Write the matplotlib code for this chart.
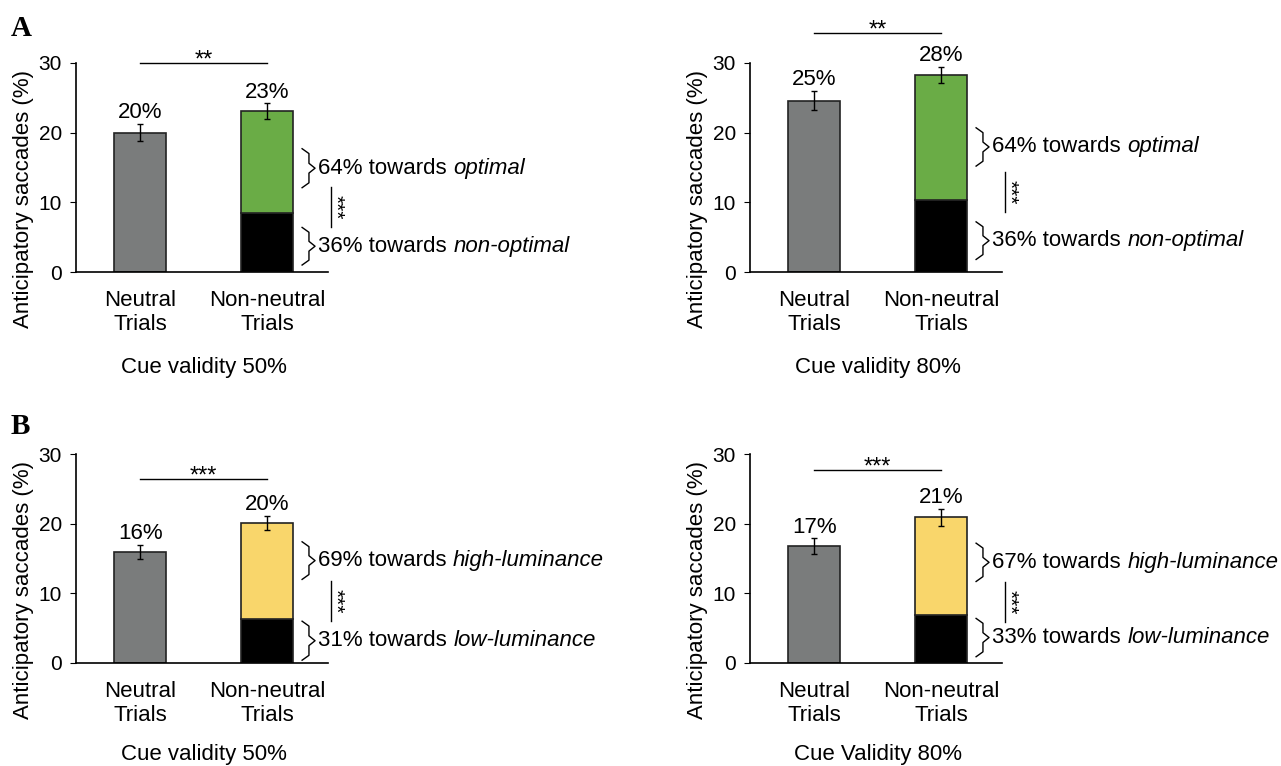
import numpy as np
import matplotlib
matplotlib.use("Agg")
import matplotlib.pyplot as plt

plt.rcParams['font.family'] = ['Liberation Sans', 'DejaVu Sans']

# data per panel: A-50%, A-80%, B-50%, B-80%
neutral = [20.0, 24.6, 16.0, 16.8]
neutral_err = [1.25, 1.4, 1.0, 1.1]
nonneutral = [23.1, 28.3, 20.1, 20.9]
nonneutral_err = [1.1, 1.15, 1.0, 1.2]
towards_low = [8.4, 10.3, 6.3, 6.9]          # black part of the stacked bar
neutral_lbl = ["20%", "25%", "16%", "17%"]
nonneutral_lbl = ["23%", "28%", "20%", "21%"]
high_pct = ["64%", "64%", "69%", "67%"]
low_pct = ["36%", "36%", "31%", "33%"]
high_word = ["optimal", "optimal", "high-luminance", "high-luminance"]
low_word = ["non-optimal", "non-optimal", "low-luminance", "low-luminance"]
top_colors = ["#6aac46", "#6aac46", "#f9d66b", "#f9d66b"]
top_stars = ["**", "**", "***", "***"]
cue_titles = ["Cue validity 50%", "Cue validity 80%", "Cue validity 50%", "Cue Validity 80%"]
categories = ["Neutral\nTrials", "Non-neutral\nTrials"]

# annotation geometry (data units)
sig_top_y = [30.0, 34.3, 26.4, 27.7]
brace_hi = [(17.7, 12.1), (20.7, 15.2), (17.4, 12.0), (17.2, 11.7)]
brace_lo = [(6.4, 1.0), (7.2, 1.8), (6.0, 0.4), (6.4, 0.9)]
sig_side = [(12.2, 6.4), (14.3, 8.6), (11.7, 6.1), (11.6, 5.9)]

W, H = 1281, 766
fig = plt.figure(figsize=(W / 100, H / 100), dpi=100)

ax_rects = [(76, 63), (750, 63), (76, 454), (750, 454)]
title_off = [-69, -69, -66, -66]
aw, ah = 252, 209


def brace(ax, ytop, ybot, x0=1.276, x1=1.33, xtip=1.378):
    ym = (ytop + ybot) / 2
    d = 0.7
    xs = [x0, x1, x1, xtip, x1, x1, x0]
    ys = [ytop, ytop - d, ym + d, ym, ym - d, ybot + d, ybot]
    ax.plot(xs, ys, color="black", lw=1.0, clip_on=False)
    return ym


def two_part(ax, x, y, plain, ital):
    t = ax.text(x, y, plain + " towards ", fontsize=16, va="center", ha="left",
                clip_on=False)
    ax.annotate(ital, xy=(1, 0.5), xycoords=t, va="center", ha="left",
                fontsize=16, style="italic", annotation_clip=False)


for i in range(4):
    px, py = ax_rects[i]
    ax = fig.add_axes([px / W, 1 - (py + ah) / H, aw / W, ah / H])
    x = np.array([0, 1])
    ax.bar(0, neutral[i], width=0.41, color="#7a7c7c", edgecolor="#222222", lw=1.2)
    ax.bar(1, towards_low[i], width=0.41, color="black", edgecolor="#222222", lw=1.2)
    ax.bar(1, nonneutral[i] - towards_low[i], bottom=towards_low[i], width=0.41,
           color=top_colors[i], edgecolor="#222222", lw=1.2)
    ax.errorbar(x, [neutral[i], nonneutral[i]], yerr=[neutral_err[i], nonneutral_err[i]],
                fmt="none", ecolor="black", elinewidth=1, capsize=2.5, capthick=1)
    for xi, v, e, lbl in zip(x, [neutral[i], nonneutral[i]],
                             [neutral_err[i], nonneutral_err[i]],
                             [neutral_lbl[i], nonneutral_lbl[i]]):
        ax.annotate(lbl, xy=(xi, v + e), xytext=(0, 4), textcoords="offset points",
                    ha="center", va="baseline", fontsize=16)

    ax.set_xlim(-0.505, 1.48)
    ax.set_ylim(0, 30)
    ax.set_yticks([0, 10, 20, 30])
    ax.set_xticks(x)
    ax.set_xticklabels(categories, fontsize=16, linespacing=1.2)
    ax.tick_params(axis="x", length=0, pad=13)
    ax.tick_params(axis="y", direction="out", length=4, labelsize=15, pad=6)
    for s in ["top", "right"]:
        ax.spines[s].set_visible(False)
    ax.spines["left"].set_linewidth(1.2)
    ax.spines["bottom"].set_linewidth(1.2)

    ax.text(-0.21, 0.35, "Anticipatory saccades (%)", transform=ax.transAxes,
            rotation=90, ha="center", va="center", fontsize=16)
    ax.annotate(cue_titles[i], xy=(0.5, 0), xycoords=("data", "axes fraction"),
                xytext=(0, title_off[i]), textcoords="offset points", ha="center",
                va="center", fontsize=16)

    # significance between the two bars
    ax.plot([0, 1], [sig_top_y[i]] * 2, color="black", lw=1, clip_on=False)
    ax.annotate(top_stars[i], xy=(0.5, sig_top_y[i]), xytext=(0, -6),
                textcoords="offset points", ha="center", va="bottom",
                fontsize=17, annotation_clip=False)

    # braces with labels
    ym = brace(ax, *brace_hi[i])
    two_part(ax, 1.405, ym, high_pct[i], high_word[i])
    ym = brace(ax, *brace_lo[i])
    two_part(ax, 1.405, ym, low_pct[i], low_word[i])

    # vertical significance between proportions
    ax.plot([1.504, 1.504], sig_side[i], color="black", lw=1, clip_on=False)
    ax.text(1.535, np.mean(sig_side[i]), "***", rotation=270, ha="center",
            va="center", fontsize=15, clip_on=False)

fig.text(11 / W, 1 - 28 / H, "A", fontsize=21, fontweight="bold",
         family="Liberation Serif", va="center", ha="left")
fig.text(11 / W, 1 - 426 / H, "B", fontsize=21, fontweight="bold",
         family="Liberation Serif", va="center", ha="left")

fig.savefig("out.png", dpi=100, facecolor="white")
